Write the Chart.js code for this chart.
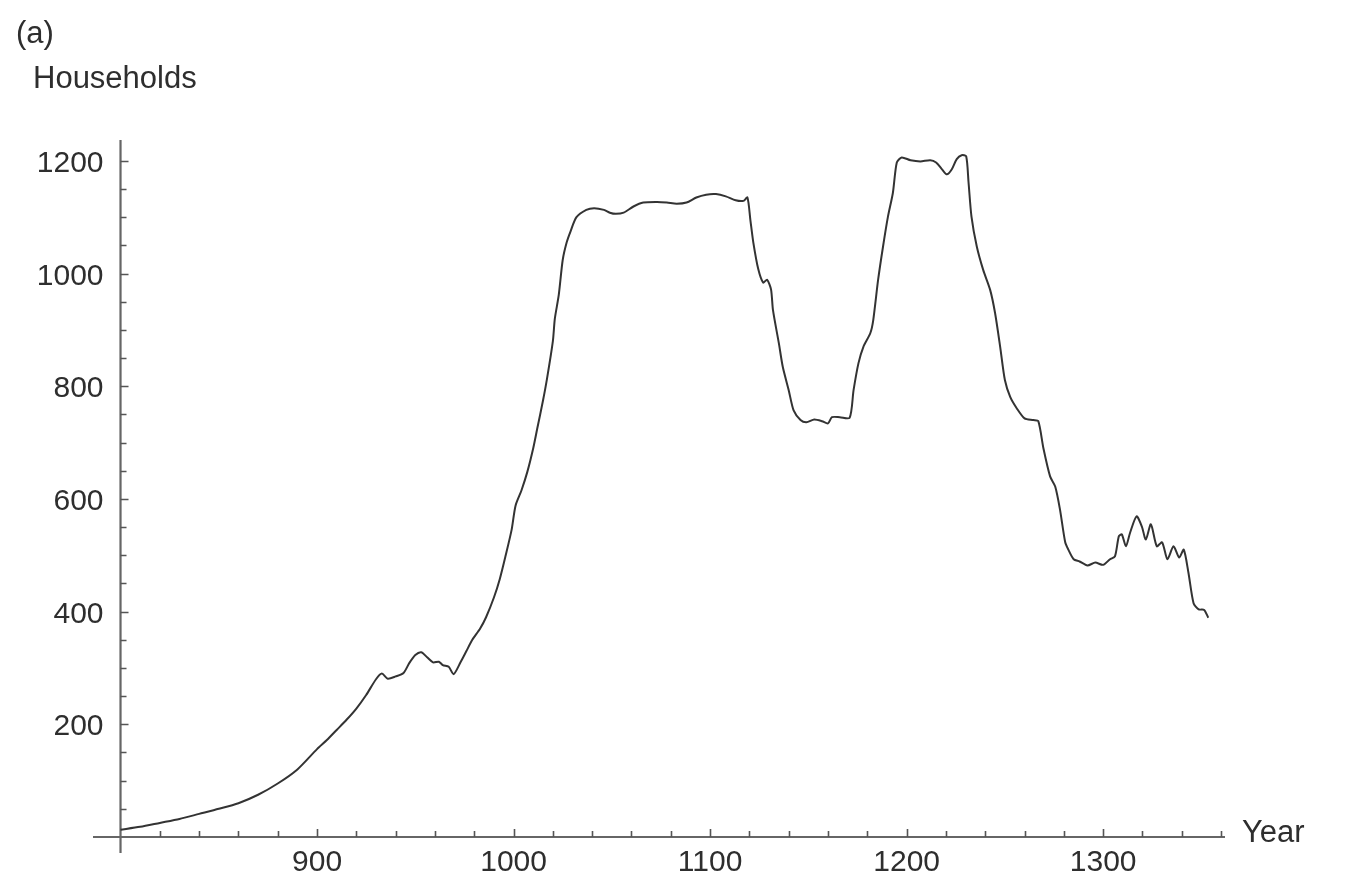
<!DOCTYPE html>
<html>
<head>
<meta charset="utf-8">
<script src="https://cdn.jsdelivr.net/npm/chart.js@4.4.1/dist/chart.umd.min.js"></script>
<style>
  html, body { margin: 0; padding: 0; background: #ffffff; }
  #wrap { width: 1349px; height: 880px; position: relative; }
</style>
</head>
<body>
<div id="wrap"><canvas id="c"></canvas></div>
<script>
// ---- data ----
const years = [800, 810, 820, 830, 840, 850, 860, 870, 880, 890, 900, 905, 910, 915, 920, 925, 930, 933, 936, 940,
  944, 947, 950, 953, 956, 959, 962, 964, 967, 969.5, 973, 976, 979, 983, 986, 990, 993, 996, 999, 1001,
  1004, 1007, 1010, 1012, 1015, 1017, 1020, 1021, 1023, 1025, 1027, 1029, 1032, 1037, 1041, 1046, 1049, 1052, 1056, 1061,
  1066, 1073, 1078, 1083, 1088, 1093, 1098, 1103, 1108, 1113, 1117, 1119, 1120.5, 1122, 1124.5, 1127, 1129, 1131, 1132, 1135,
  1137, 1140, 1142.5, 1146, 1149, 1153, 1157, 1160, 1162, 1166, 1171, 1173, 1175.5, 1178, 1181.5, 1183, 1185.5, 1188, 1190.5, 1193,
  1195, 1197.5, 1202, 1207, 1212, 1215, 1218, 1220.5, 1223, 1225.5, 1228, 1230.3, 1231.5, 1233, 1235.7, 1239, 1242.5, 1245, 1247.6, 1250,
  1252.7, 1256, 1260, 1264.5, 1267, 1269.6, 1273, 1275.6, 1278, 1280.7, 1282.3, 1285, 1288, 1292, 1296, 1300, 1303.5, 1306, 1308, 1309.5,
  1311.6, 1313.7, 1317, 1319.7, 1321.7, 1324.3, 1327.3, 1330, 1332.7, 1335.8, 1338.7, 1341, 1343.4, 1346, 1348.6, 1351.4, 1353.5];
const households = [13, 18, 25, 32, 41, 50, 60, 75, 95, 120, 156, 172, 190, 208, 228, 252, 280, 290, 281, 285,
  291, 309, 323, 328, 319, 310, 311, 305, 302, 289, 310, 330, 350, 370, 390, 425, 458, 500, 545, 588,
  615, 648, 690, 724, 775, 813, 880, 920, 962, 1024, 1055, 1075, 1100, 1113, 1116, 1113, 1108, 1106, 1108, 1119,
  1126, 1127, 1126, 1124, 1126, 1135, 1140, 1141, 1137, 1130, 1129, 1135, 1095, 1055, 1008, 984, 989, 972, 935, 876,
  834, 793, 757, 740, 736, 741, 738, 734, 745, 745, 744, 793, 841, 870, 894, 917, 989, 1048, 1101, 1143,
  1197, 1206, 1201, 1199, 1201, 1197, 1185, 1176, 1185, 1203, 1210, 1208, 1162, 1101, 1048, 1006, 971, 930, 870, 811,
  781, 761, 743, 740, 738, 690, 640, 622, 582, 523, 510, 493, 489, 482, 487, 483, 493, 498, 534, 537,
  516, 540, 569, 551, 528, 555, 516, 523, 493, 516, 496, 510, 469, 415, 404, 403, 389];

const xTickLabels = [900, 1000, 1100, 1200, 1300];
const yTickLabels = [200, 400, 600, 800, 1000, 1200];
const xMinorStep = 20;
const yMinorStep = 50;
const panelLabel = '(a)';
const yAxisTitle = 'Households';
const xAxisTitle = 'Year';

// ---- axes drawn through the chart's own scales ----
const FAMILY = '"Liberation Sans", Arial, Helvetica, sans-serif';
const TICK_FONT = '30px ' + FAMILY;
const TITLE_FONT = '31px ' + FAMILY;
const TEXT = '#2e2e2e';
const AXIS = '#666666';

const axesPlugin = {
  id: 'crossAxes',
  beforeDatasetsDraw(chart) {
    const ctx = chart.ctx;
    const xs = chart.scales.x, ys = chart.scales.y;
    const x0 = xs.getPixelForValue(800);
    const y0 = ys.getPixelForValue(0);
    ctx.save();
    ctx.strokeStyle = AXIS;
    ctx.lineWidth = 2.2;
    // axis lines
    ctx.beginPath();
    ctx.moveTo(xs.getPixelForValue(xs.min), y0);
    ctx.lineTo(xs.getPixelForValue(xs.max), y0);
    ctx.moveTo(x0, ys.getPixelForValue(ys.min));
    ctx.lineTo(x0, ys.getPixelForValue(ys.max));
    ctx.stroke();
    // ticks
    ctx.lineWidth = 1.6;
    ctx.strokeStyle = '#555555';
    ctx.beginPath();
    for (let v = 800 + xMinorStep; v <= xs.max; v += xMinorStep) {
      const px = Math.round(xs.getPixelForValue(v)) + 0.5;
      const len = (v % 100 === 0) ? 8 : 6;
      ctx.moveTo(px, y0);
      ctx.lineTo(px, y0 - len);
    }
    for (let v = yMinorStep; v <= ys.max; v += yMinorStep) {
      const py = Math.round(ys.getPixelForValue(v)) + 0.5;
      const len = (v % 200 === 0) ? 8 : 6;
      ctx.moveTo(x0, py);
      ctx.lineTo(x0 + len, py);
    }
    ctx.stroke();
    // tick labels
    ctx.fillStyle = TEXT;
    ctx.font = TICK_FONT;
    ctx.textAlign = 'center';
    ctx.textBaseline = 'alphabetic';
    xTickLabels.forEach(v => {
      ctx.fillText(String(v), xs.getPixelForValue(v), y0 + 34);
    });
    ctx.textAlign = 'right';
    yTickLabels.forEach(v => {
      ctx.fillText(String(v), x0 - 17, ys.getPixelForValue(v) + 11);
    });
    // titles
    ctx.font = TITLE_FONT;
    ctx.textAlign = 'left';
    ctx.fillText(panelLabel, 16, 43);
    ctx.fillText(yAxisTitle, 33, 88);
    ctx.fillText(xAxisTitle, 1242, y0 + 5);
    ctx.restore();
  }
};

new Chart(document.getElementById('c'), {
  type: 'line',
  data: {
    datasets: [{
      data: years.map((y, i) => ({ x: y, y: households[i] })),
      borderColor: '#333333',
      borderWidth: 2,
      pointRadius: 0,
      tension: 0.25,
      fill: false
    }]
  },
  options: {
    responsive: true,
    maintainAspectRatio: false,
    animation: false,
    layout: { padding: { left: 93, right: 124, top: 140, bottom: 27 } },
    plugins: { legend: { display: false }, tooltip: { enabled: false }, title: { display: false } },
    scales: {
      x: { type: 'linear', min: 786, max: 1362, display: false },
      y: { type: 'linear', min: -28.4, max: 1237, display: false }
    }
  },
  plugins: [axesPlugin]
});
</script>
</body>
</html>
